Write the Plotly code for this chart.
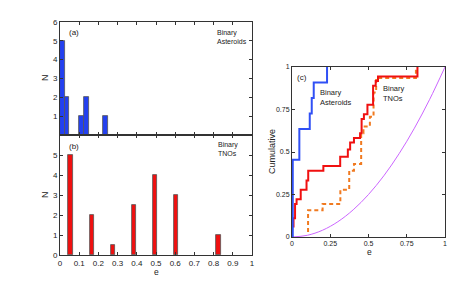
import plotly.graph_objects as go

# ---------------- data ----------------
# panel (a): binary asteroids histogram
ast_e = [0.0125, 0.0375, 0.1125, 0.1375, 0.2375]
ast_n = [5, 2, 1, 2, 1]
# panel (b): binary TNOs histogram
tno_e = [0.055, 0.165, 0.275, 0.385, 0.495, 0.605, 0.825]
tno_n = [5, 2, 0.5, 2.5, 4, 3, 1]
# panel (c): cumulative distributions (step points)
cum_ast_e = [0.005, 0.005, 0.048, 0.116, 0.129, 0.142, 0.229]
cum_ast_c = [0.0, 0.4545, 0.636, 0.727, 0.818, 0.909, 1.0]
cum_tno_e = [0.01, 0.01, 0.02, 0.03, 0.057, 0.095, 0.106, 0.205, 0.315, 0.365, 0.38,
             0.405, 0.445, 0.455, 0.47, 0.493, 0.53, 0.547, 0.562, 0.82]
cum_tno_c = [0.056, 0.111, 0.194, 0.222, 0.278, 0.333, 0.389, 0.417, 0.472, 0.514, 0.556,
             0.583, 0.611, 0.694, 0.722, 0.778, 0.889, 0.917, 0.944, 1.0]
cum_tno2_e = [0.105, 0.105, 0.2, 0.316, 0.374, 0.405, 0.452, 0.467, 0.509, 0.533, 0.55, 0.81]
cum_tno2_c = [0.03, 0.158, 0.194, 0.278, 0.39, 0.43, 0.611, 0.65, 0.707, 0.85, 0.935, 1.0]
therm_e = [0, 0.1, 0.2, 0.3, 0.4, 0.5, 0.6, 0.7, 0.8, 0.9, 1.0]
therm_c = [0, 0.01, 0.04, 0.09, 0.16, 0.25, 0.36, 0.49, 0.64, 0.81, 1.0]

bar_ticks = [0, 0.1, 0.2, 0.3, 0.4, 0.5, 0.6, 0.7, 0.8, 0.9, 1]
bar_ticktext = ["0", "0.1", "0.2", "0.3", "0.4", "0.5", "0.6", "0.7", "0.8", "0.9", "1"]
c_ticks = [0, 0.25, 0.5, 0.75, 1]
c_ticktext = ["0", "0.25", "0.5", "0.75", "1"]

W, H = 458, 288
FONT = "Liberation Sans, Arial, sans-serif"


def px(x):
    return x / W


def py(y):
    return 1 - y / H


fig = go.Figure()
fig.add_trace(go.Bar(x=ast_e, y=ast_n, width=0.022, marker=dict(color="#2340f0", line=dict(color="#555", width=0.8)),
                     xaxis="x", yaxis="y"))
fig.add_trace(go.Bar(x=tno_e, y=tno_n, width=0.022, marker=dict(color="#f01010", line=dict(color="#555", width=0.8)),
                     xaxis="x2", yaxis="y2"))
fig.add_trace(go.Scatter(x=therm_e, y=therm_c, mode="lines", line=dict(color="#cc66ff", width=1, shape="spline"),
                         xaxis="x3", yaxis="y3"))
fig.add_trace(go.Scatter(x=cum_tno2_e, y=cum_tno2_c, mode="lines",
                         line=dict(color="#f07a20", width=2, shape="hv", dash="4px,3px"),
                         xaxis="x3", yaxis="y3"))
fig.add_trace(go.Scatter(x=cum_tno_e, y=cum_tno_c, mode="lines", line=dict(color="#f01010", width=2, shape="hv"),
                         xaxis="x3", yaxis="y3"))
fig.add_trace(go.Scatter(x=cum_ast_e, y=cum_ast_c, mode="lines", line=dict(color="#3050f5", width=2, shape="hv"),
                         xaxis="x3", yaxis="y3"))

ax_common = dict(showline=True, linecolor="#333", linewidth=1, mirror="ticks", ticks="inside", ticklen=3,
                 tickcolor="#333", showgrid=False, zeroline=False, fixedrange=True, automargin=False,
                 tickfont=dict(family=FONT, size=8, color="#222"))
c_font = dict(family=FONT, size=7, color="#222")

fig.update_layout(
    width=W, height=H, margin=dict(l=0, r=0, t=0, b=0, autoexpand=False),
    paper_bgcolor="white", plot_bgcolor="white", showlegend=False, bargap=0,
    font=dict(family=FONT, size=8, color="#222"),
    xaxis=dict(domain=[px(60), px(252)], anchor="y", range=[0, 1], tickvals=bar_ticks, showticklabels=False,
               **ax_common),
    yaxis=dict(domain=[py(135), py(22)], anchor="x", range=[0, 6], tickvals=[1, 2, 3, 4, 5, 6], **ax_common),
    xaxis2=dict(domain=[px(60), px(252)], anchor="y2", range=[0, 1], tickvals=bar_ticks, ticktext=bar_ticktext,
                **ax_common),
    yaxis2=dict(domain=[py(255), py(135)], anchor="x2", range=[0, 6], tickvals=[0, 1, 2, 3, 4, 5], **ax_common),
    xaxis3=dict(domain=[px(292), px(445)], anchor="y3", range=[0, 1], tickvals=c_ticks, ticktext=c_ticktext,
                **{**ax_common, "tickfont": c_font}),
    yaxis3=dict(domain=[py(237), py(67)], anchor="x3", range=[0, 1], tickvals=c_ticks, ticktext=c_ticktext,
                **{**ax_common, "tickfont": c_font}),
)

ann = [
    dict(text="(a)", x=px(67), y=py(32), xanchor="left", size=8),
    dict(text="Binary<br>Asteroids", x=px(215), y=py(37), xanchor="left", size=7),
    dict(text="(b)", x=px(67), y=py(146), xanchor="left", size=8),
    dict(text="Binary<br>TNOs", x=px(216), y=py(149), xanchor="left", size=7),
    dict(text="(c)", x=px(295), y=py(77), xanchor="left", size=8),
    dict(text="Binary<br>Asteroids", x=px(318), y=py(97), xanchor="left", size=7.5),
    dict(text="Binary<br>TNOs", x=px(381), y=py(93), xanchor="left", size=7.5),
    dict(text="e", x=px(156), y=py(272), xanchor="center", size=8.5),
    dict(text="e", x=px(369), y=py(252), xanchor="center", size=8.5),
]
for a in ann:
    fig.add_annotation(text=a["text"], x=a["x"], y=a["y"], xref="paper", yref="paper", xanchor=a["xanchor"],
                       yanchor="middle", showarrow=False, align="left",
                       font=dict(family=FONT, size=a["size"], color="#222"))
for (x, y, t) in [(45, 78, "N"), (45, 195, "N"), (272, 152, "Cumulative")]:
    fig.add_annotation(text=t, x=px(x), y=py(y), xref="paper", yref="paper", xanchor="center", yanchor="middle",
                       showarrow=False, textangle=-90, font=dict(family=FONT, size=9, color="#222"))

fig.write_html("out.html", config={"displayModeBar": False},
               post_script="document.body.style.margin='0';document.body.style.padding='0';")
